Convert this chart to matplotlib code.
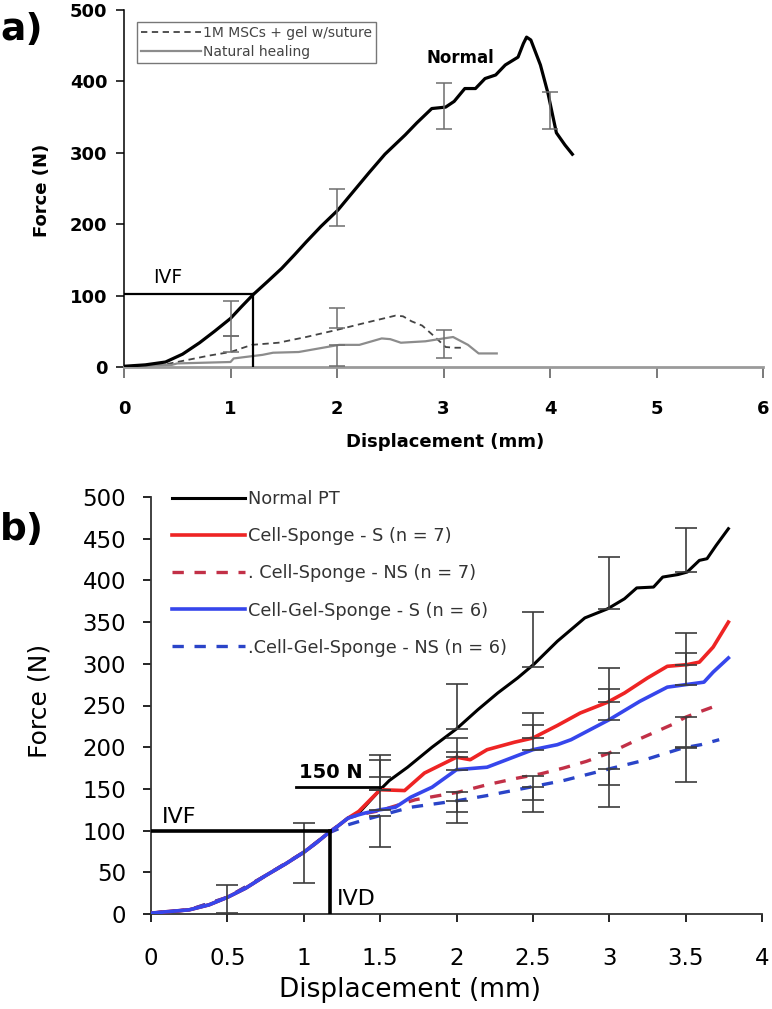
import numpy as np
import matplotlib
matplotlib.use('Agg')
import matplotlib.pyplot as plt
from matplotlib.ticker import MultipleLocator, FormatStrFormatter

plt.rcParams['font.family'] = ['DejaVu Sans']

# ---------------- panel a data ----------------
normal_a_x = [0, 0.2, 0.39, 0.55, 0.71, 0.85, 1.0, 1.1, 1.21, 1.35, 1.48, 1.6, 1.71, 1.85, 2.01,
              2.11, 2.3, 2.45, 2.64, 2.75, 2.89, 3.02, 3.1, 3.2, 3.3, 3.39, 3.49, 3.58, 3.70,
              3.75, 3.78, 3.82, 3.91, 3.98, 4.06, 4.14, 4.21]
normal_a_y = [1, 3, 7, 18, 34, 50, 68, 84, 101, 120, 138, 157, 175, 197, 220,
              238, 272, 298, 325, 342, 362, 364, 372, 390, 390, 404, 409, 423, 434,
              453, 462, 458, 423, 384, 328, 311, 298]

msc_x = [0, 0.2, 0.4, 0.6, 0.8, 1.0, 1.1, 1.2, 1.45, 1.71, 2.0, 2.27, 2.55, 2.62, 2.7, 2.8,
         2.92, 3.02, 3.1, 3.2]
msc_y = [1, 2, 4, 10, 16, 21, 26, 31, 34, 42, 52, 62, 72, 71, 64, 58, 42, 28, 27, 27]

nat_x = [0, 0.45, 0.5, 1.0, 1.03, 1.3, 1.4, 1.64, 2.02, 2.21, 2.42, 2.5, 2.6, 2.83, 3.0,
         3.09, 3.23, 3.33, 3.5]
nat_y = [1, 3, 5, 7, 12, 17, 20, 21, 31, 31, 40, 39, 34, 36, 40, 42, 31, 19, 19]

# error bars a: x, centre, lower, upper
err_a_x = [1.0, 2.0, 3.0, 4.0, 1.0, 2.0, 2.0, 3.0]
err_a_y = [68, 222, 364, 360, 21, 55, 31, 40]
err_a_lo = [25, 25, 31, 27, 0, 0, 30, 27]
err_a_hi = [25, 28, 34, 25, 23, 27, 0, 12]

# ---------------- panel b data ----------------
normal_x = [0, 0.12, 0.25, 0.38, 0.5, 0.62, 0.75, 0.88, 1.0, 1.08, 1.16, 1.22, 1.29, 1.36, 1.5,
            1.56, 1.68, 1.84, 2.0, 2.14, 2.27, 2.4, 2.51, 2.66, 2.84, 2.99, 3.1, 3.18, 3.29,
            3.35, 3.45, 3.51, 3.59, 3.64, 3.70, 3.78]
normal_y = [1, 3, 5, 11, 20, 31, 46, 60, 74, 85, 97, 105, 115, 121, 149,
            160, 176, 200, 222, 245, 265, 283, 300, 327, 355, 366, 378, 391, 392,
            404, 407, 410, 424, 426, 442, 462]

cs_s_x = [0, 0.12, 0.25, 0.38, 0.5, 0.62, 0.75, 0.88, 1.0, 1.08, 1.16, 1.22, 1.29, 1.36, 1.5,
          1.66, 1.79, 2.0, 2.09, 2.2, 2.38, 2.5, 2.66, 2.81, 2.99, 3.1, 3.25, 3.38, 3.51,
          3.59, 3.68, 3.78]
cs_s_y = [1, 3, 5, 11, 20, 31, 46, 60, 74, 85, 97, 105, 115, 123, 149,
          148, 169, 188, 185, 197, 206, 211, 226, 241, 254, 265, 283, 297, 299,
          302, 320, 350]

cs_ns_x = [0, 0.25, 0.5, 0.75, 1.0, 1.16, 1.29, 1.36, 1.5, 1.73, 2.01, 2.2, 2.4, 2.55, 2.7,
           2.85, 3.0, 3.15, 3.41, 3.5, 3.6, 3.72]
cs_ns_y = [1, 5, 20, 46, 74, 97, 115, 119, 124, 137, 146, 155, 163, 168, 175,
           183, 193, 206, 227, 236, 243, 251]

cgs_s_x = [0, 0.12, 0.25, 0.38, 0.5, 0.62, 0.75, 0.88, 1.0, 1.08, 1.16, 1.22, 1.29, 1.36, 1.4,
           1.5, 1.6, 1.7, 1.84, 2.0, 2.2, 2.5, 2.66, 2.75, 3.0, 3.2, 3.38, 3.5, 3.62, 3.68, 3.78]
cgs_s_y = [1, 3, 5, 11, 20, 31, 46, 60, 74, 85, 97, 105, 115, 119, 121,
           125, 128, 140, 152, 173, 176, 197, 203, 209, 233, 255, 272, 275, 278, 290, 307]

cgs_ns_x = [0, 0.25, 0.5, 0.75, 1.0, 1.16, 1.29, 1.4, 1.5, 1.7, 2.01, 2.2, 2.48, 2.7, 3.0,
            3.2, 3.48, 3.6, 3.72]
cgs_ns_y = [1, 5, 20, 46, 74, 97, 107, 113, 118, 128, 136, 142, 152, 160, 174,
            183, 199, 203, 209]

# error bars b (x, centre, lower, upper)
err_normal = ([0.5, 1.0, 1.5, 2.0, 2.5, 3.0, 3.5], [20, 72, 149, 222, 296, 366, 410],
              [19, 35, 0, 0, 0, 0, 0], [15, 37, 42, 54, 66, 62, 53])
err_cs_s = ([1.5, 2.0, 2.5, 3.0, 3.5], [149, 188, 211, 254, 299],
            [0, 0, 0, 0, 0], [36, 23, 30, 41, 38])
err_cgs_s = ([1.5, 2.0, 2.5, 3.0, 3.5], [125, 173, 197, 233, 275],
             [0, 0, 0, 0, 0], [39, 21, 30, 37, 38])
err_cs_ns = ([2.0, 2.5, 3.0, 3.5], [146, 166, 193, 236],
             [24, 29, 38, 36], [0, 0, 0, 0])
err_cgs_ns = ([1.5, 2.0, 2.5, 3.0, 3.5], [118, 136, 152, 174, 199],
              [38, 27, 30, 46, 41], [0, 0, 0, 0, 0])

labels_b = ['Normal PT', 'Cell-Sponge - S (n = 7)', '. Cell-Sponge - NS (n = 7)',
            'Cell-Gel-Sponge - S (n = 6)', '.Cell-Gel-Sponge - NS (n = 6)']
labels_a = ['1M MSCs + gel w/suture', 'Natural healing']

ivf_a = (1.21, 102)
ivf_b = (1.17, 99)
line150 = (0.95, 1.5, 152)

fig = plt.figure(figsize=(7.72, 10.09), dpi=100)

# ================= panel a =================
ax = fig.add_axes([124 / 772, 1 - 367 / 1009, 639 / 772, 357 / 1009])
ax.plot(normal_a_x, normal_a_y, color='black', lw=2.3, zorder=4)
ax.plot(msc_x, msc_y, color='#444444', lw=1.3, dashes=(3.5, 2.5), label=labels_a[0], zorder=3)
ax.plot(nat_x, nat_y, color='#8c8c8c', lw=1.6, label=labels_a[1], zorder=3)
ax.errorbar(err_a_x, err_a_y, yerr=[err_a_lo, err_a_hi], fmt='none', ecolor='#6e6e6e',
            elinewidth=1.1, capsize=6, capthick=1.1, zorder=5)

ax.plot([0, ivf_a[0]], [ivf_a[1], ivf_a[1]], color='black', lw=1.6, zorder=5)
ax.plot([ivf_a[0], ivf_a[0]], [0, ivf_a[1]], color='black', lw=1.6, zorder=5)
ax.text(0.27, 117, 'IVF', fontsize=13.5, ha='left', va='baseline')
ax.text(2.84, 426, 'Normal', fontsize=12, fontweight='bold', ha='left', va='baseline')

ax.set_xlim(0, 6)
ax.set_ylim(0, 500)
ax.xaxis.set_major_locator(MultipleLocator(1))
ax.yaxis.set_major_locator(MultipleLocator(100))
for s in ['top', 'right']:
    ax.spines[s].set_visible(False)
ax.spines['left'].set_linewidth(1.1)
ax.spines['bottom'].set_color('#9a9a9a')
ax.spines['bottom'].set_linewidth(2)
ax.tick_params(axis='y', length=6, width=1.1, pad=6, labelsize=13)
ax.tick_params(axis='x', length=8, width=1.1, color='#555555', pad=16, labelsize=13)
for t in ax.get_xticklabels() + ax.get_yticklabels():
    t.set_fontweight('bold')

leg = ax.legend(loc='upper left', bbox_to_anchor=(0.02, 0.966), borderaxespad=0,
                fontsize=10, handlelength=4.3, handletextpad=0.15, labelspacing=0.35,
                borderpad=0.3, frameon=True, fancybox=False, edgecolor='#555555')
leg.get_frame().set_linewidth(1.0)
for t in leg.get_texts():
    t.set_color('#444444')

fig.text(42 / 772, 1 - 190 / 1009, 'Force (N)', rotation=90, fontsize=13, fontweight='bold',
         ha='center', va='center')
fig.text(445 / 772, 1 - 442 / 1009, 'Displacement (mm)', fontsize=13, fontweight='bold',
         ha='center', va='center')
fig.text(0.0, 1 - 30 / 1009, 'a)', fontsize=27, fontweight='bold', ha='left', va='center')

# ================= panel b =================
bx = fig.add_axes([151 / 772, 1 - 914 / 1009, 611 / 772, 417 / 1009])
bx.plot(normal_x, normal_y, color='black', lw=2.2, label=labels_b[0], zorder=3)
bx.plot(cs_s_x, cs_s_y, color='#ee2424', lw=2.6, label=labels_b[1], zorder=5)
bx.plot(cs_ns_x, cs_ns_y, color='#c23047', lw=2.4, dashes=(3.4, 3.2), label=labels_b[2], zorder=4)
bx.plot(cgs_s_x, cgs_s_y, color='#3646ec', lw=2.6, label=labels_b[3], zorder=6)
bx.plot(cgs_ns_x, cgs_ns_y, color='#2a44c8', lw=2.4, dashes=(3.4, 3.2), label=labels_b[4], zorder=4)

for ex, ey, elo, ehi in [err_normal, err_cs_s, err_cgs_s, err_cs_ns, err_cgs_ns]:
    bx.errorbar(ex, ey, yerr=[elo, ehi], fmt='none', ecolor='#3c3c3c', elinewidth=1.2,
                capsize=8, capthick=1.2, zorder=7)

bx.plot([0, ivf_b[0]], [ivf_b[1], ivf_b[1]], color='black', lw=2.6, zorder=8)
bx.plot([ivf_b[0], ivf_b[0]], [0, ivf_b[1]], color='black', lw=2.6, zorder=8)
bx.plot([line150[0], line150[1]], [line150[2], line150[2]], color='black', lw=2, zorder=8)
bx.text(0.07, 109, 'IVF', fontsize=16, ha='left', va='baseline')
bx.text(1.22, 11, 'IVD', fontsize=16, ha='left', va='baseline')
bx.text(0.97, 163, '150 N', fontsize=14, fontweight='bold', ha='left', va='baseline')

bx.set_xlim(0, 4)
bx.set_ylim(0, 500)
bx.xaxis.set_major_locator(MultipleLocator(0.5))
bx.yaxis.set_major_locator(MultipleLocator(50))
bx.xaxis.set_major_formatter(FormatStrFormatter('%g'))
for s in ['top', 'right']:
    bx.spines[s].set_visible(False)
for s in ['left', 'bottom']:
    bx.spines[s].set_linewidth(1.3)
    bx.spines[s].set_color('#333333')
bx.tick_params(axis='y', length=6, width=1.2, pad=12, labelsize=16.5)
bx.tick_params(axis='x', length=6, width=1.2, pad=18, labelsize=16.5)

legb = bx.legend(loc='upper left', bbox_to_anchor=(0.034, 1.017), borderaxespad=0,
                 fontsize=12.8, handlelength=4.1, handletextpad=0.2, labelspacing=1.08,
                 borderpad=0, frameon=False)
for t in legb.get_texts():
    t.set_color('#333333')

fig.text(40 / 772, 1 - 701 / 1009, 'Force (N)', rotation=90, fontsize=18,
         ha='center', va='center')
fig.text(410 / 772, 1 - 990 / 1009, 'Displacement (mm)', fontsize=19,
         ha='center', va='center')
fig.text(0.0, 1 - 530 / 1009, 'b)', fontsize=27, fontweight='bold', ha='left', va='center')

fig.savefig('out.png', dpi=100)
